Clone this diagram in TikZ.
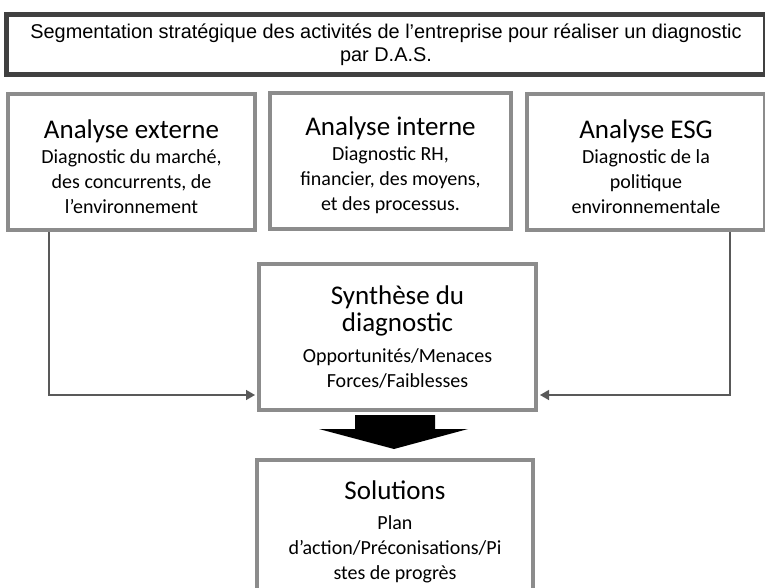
\documentclass[tikz,border=0pt]{standalone}
\usepackage{fontspec}
\setmainfont{Carlito}
\newfontfamily\arialfont{Liberation Sans}
\usetikzlibrary{arrows.meta}
\definecolor{boxgray}{HTML}{8C8C8C}
\definecolor{topgray}{HTML}{404040}
\definecolor{linegray}{HTML}{595959}
\newcommand{\ttlsz}{\fontsize{27}{27}\selectfont}
\begin{document}
\begin{tikzpicture}[x=1pt,y=-1pt,
  box/.style={draw=boxgray, line width=4pt, fill=white, inner sep=0pt, align=center,
    font=\fontsize{20}{25}\selectfont},
  topbox/.style={draw=topgray, line width=5pt, fill=white, inner sep=0pt, align=center,
    font=\arialfont\fontsize{19.9}{23}\selectfont},
  conn/.style={draw=linegray, line width=1.4pt, -{Triangle[length=9pt,width=10pt]}}]
\useasboundingbox (0,0) rectangle (765,588);
\node[topbox, minimum width=759pt, minimum height=60pt] (top) at (386,44.5)
  {Segmentation stratégique des activités de l’entreprise pour réaliser un diagnostic\\par D.A.S.};
\node[box, minimum width=247pt, minimum height=136pt] (ext) at (131.5,162)
  {\mbox{}\\[3pt]{\ttlsz Analyse externe}\\[0pt]Diagnostic du marché,\\des concurrents, de\\l’environnement};
\node[box, minimum width=241pt, minimum height=136pt] (int) at (390.5,161)
  {\mbox{}\\[3pt]{\ttlsz Analyse interne}\\[0pt]Diagnostic RH,\\financier, des moyens,\\et des processus.};
\node[box, minimum width=238pt, minimum height=136pt] (esg) at (646,162)
  {\mbox{}\\[3pt]{\ttlsz Analyse ESG}\\[0pt]Diagnostic de la\\politique\\environnementale};
\node[box, minimum width=277pt, minimum height=146pt] (syn) at (397.5,337)
  {{\ttlsz Synthèse du}\\[1.5pt]{\ttlsz diagnostic}\\[6pt]Opportunités/Menaces\\Forces/Faiblesses};
\node[box, minimum width=276pt, minimum height=138pt] (sol) at (395,529)
  {\mbox{}\\[-1pt]{\ttlsz Solutions}\\[5pt]Plan\\d’action/Préconisations/Pi\\stes de progrès};
\coordinate (lx) at (49,0);
\coordinate (rx) at (730,0);
\coordinate (ay) at (0,395);
\draw[conn] (ext.south -| lx) |- ([xshift=-2pt]syn.west |- ay);
\draw[conn] (esg.south -| rx) |- ([xshift=2pt]syn.east |- ay);
\fill[black] (355,415) -- (435,415) -- (435,429) -- (468,429) -- (394,449) -- (319,429) -- (355,429) -- cycle;
\end{tikzpicture}
\end{document}
